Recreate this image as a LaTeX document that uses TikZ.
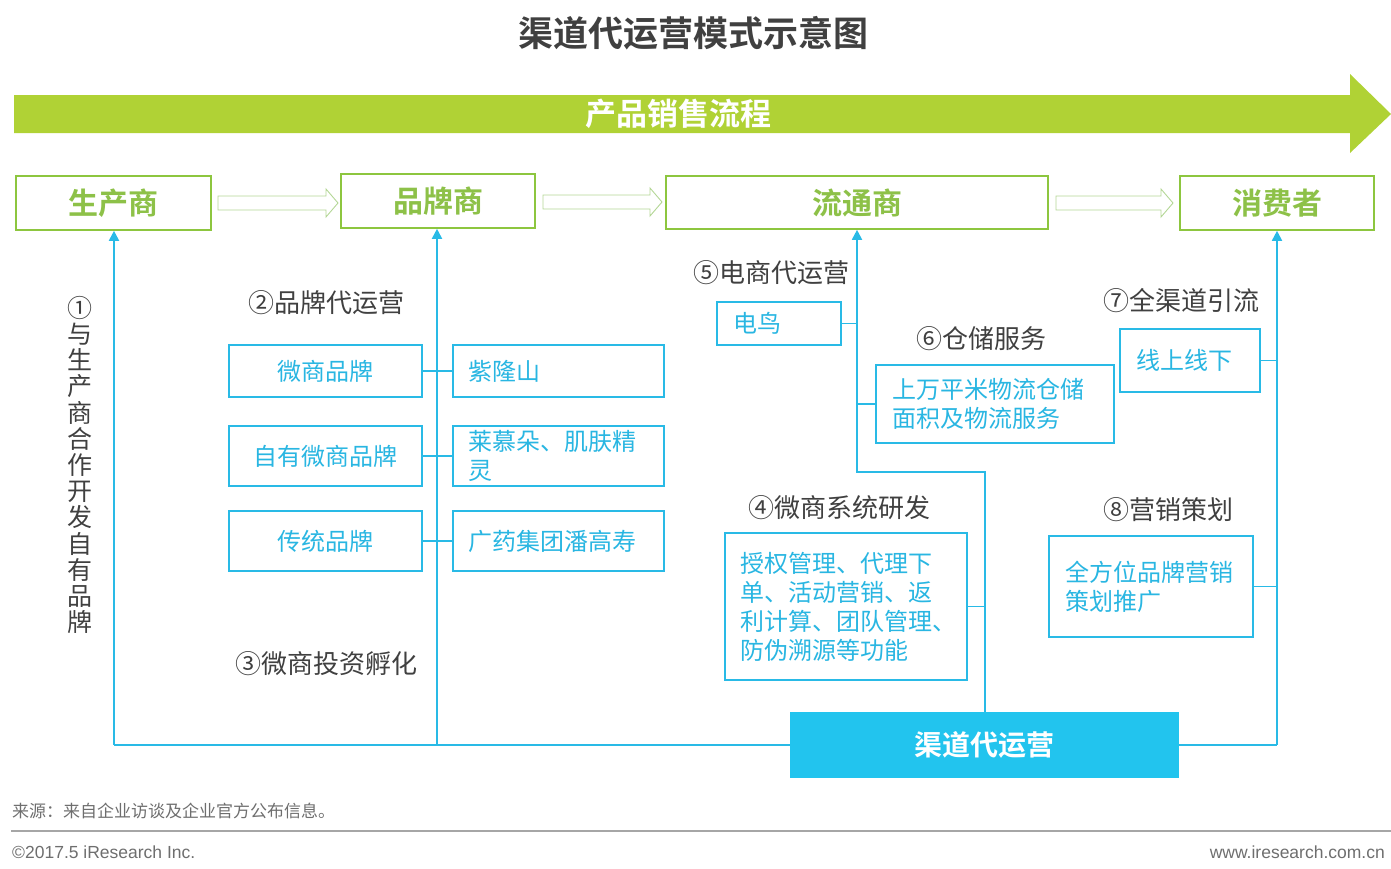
\documentclass[tikz,border=0pt]{standalone}
\usepackage{fontspec}
\setmainfont{Noto Sans CJK SC}[BoldFont={Noto Sans CJK SC Bold}]
\newfontfamily\latinfont{Liberation Sans}
\usetikzlibrary{arrows.meta}
\definecolor{gband}{RGB}{176,210,53}
\definecolor{gtext}{RGB}{141,193,72}
\definecolor{gborder}{RGB}{141,198,63}
\definecolor{harrowc}{RGB}{180,215,150}
\definecolor{bline}{RGB}{41,186,230}
\definecolor{bfill}{RGB}{34,196,238}
\definecolor{btext}{RGB}{41,182,226}
\definecolor{dgray}{RGB}{64,64,64}
\definecolor{mgray}{RGB}{110,110,110}
\newcommand\hollowarr[3]{\draw[harrow] (#1,#3-7) -- (#2-12,#3-7) -- (#2-12,#3-14) -- (#2,#3) -- (#2-12,#3+14) -- (#2-12,#3+7) -- (#1,#3+7) -- cycle;}
\begin{document}
\begin{tikzpicture}[x=1pt,y=-1pt,
  topbox/.style={draw=gborder, line width=1.6pt, fill=white, text=gtext, inner sep=0pt,
    font=\fontsize{30}{30}\selectfont\bfseries},
  harrow/.style={draw=harrowc, line width=0.9pt, fill=white},
  bl/.style={draw=bline, line width=1.8pt},
  blarr/.style={bl, -{Triangle[width=10pt,length=10pt]}},
  sbox/.style={draw=bline, line width=1.6pt, fill=white, text=btext, inner sep=0pt,
    font=\fontsize{24}{29}\selectfont},
  lbox/.style={sbox, align=left, inner xsep=15pt},
  lab/.style={text=dgray, inner sep=0pt, font=\fontsize{26}{26}\selectfont},
]
\useasboundingbox (0,0) rectangle (1391,868);

% title
\node[text=dgray, font=\fontsize{35}{35}\selectfont\bfseries] (title) at (693,33) {渠道代运营模式示意图};

% green band arrow
\fill[gband] (14,95) -- (1350,95) -- (1350,74) -- (1391,114) -- (1350,153) -- (1350,133) -- (14,133) -- cycle;
\node[text=white, font=\fontsize{31}{31}\selectfont\bfseries] (band) at (678,114) {产品销售流程};

% top boxes
\node[topbox, minimum width=195pt, minimum height=54pt] (prod) at (113.5,203) {生产商};
\node[topbox, minimum width=194pt, minimum height=54pt] (brand) at (438,201) {品牌商};
\node[topbox, minimum width=382pt, minimum height=53pt] (dist) at (857,202.5) {流通商};
\node[topbox, minimum width=194pt, minimum height=54pt] (cons) at (1277,203) {消费者};

\hollowarr{218}{338}{203}
\hollowarr{543}{662}{202}
\hollowarr{1056}{1173}{203}

% bottom box
\node[fill=bfill, text=white, minimum width=389pt, minimum height=66pt, inner sep=0pt,
  font=\fontsize{28}{28}\selectfont\bfseries] (qd) at (984.5,745) {渠道代运营};

\coordinate (b1) at (114,745);
\coordinate (b2) at (437,745);
\coordinate (b4) at (1277,745);
\coordinate (j1) at (985,472);
\coordinate (j2) at (857,472);

\draw[bl] (b1) -- (qd.west);
\draw[bl] (qd.east) -- (b4);
\draw[blarr] (b1) -- (b1 |- prod.south);
\draw[blarr] (b2) -- (b2 |- brand.south);
\draw[blarr] (b4) -- (b4 |- cons.south);
\draw[blarr] (qd.north -| j1) -- (j1) -- (j2) -- (j2 |- dist.south);

% left group
\node[text=dgray, align=center, inner sep=0pt, font=\fontsize{25}{26.2}\selectfont] (v1) at (80,465)
  {①\\与\\生\\产\\商\\合\\作\\开\\发\\自\\有\\品\\牌};
\node[lab] (l2) at (326,303) {②品牌代运营};
\node[lab] (l3) at (326,664) {③微商投资孵化};

\node[sbox, minimum width=193pt, minimum height=52pt] (wsb) at (325.5,371) {微商品牌};
\node[lbox, text width=181pt, minimum height=52pt] (zls) at (558.5,371) {紫隆山};
\node[sbox, minimum width=193pt, minimum height=60pt] (zy) at (325.5,456) {自有微商品牌};
\node[lbox, text width=181pt, minimum height=60pt] (lmd) at (558.5,456) {莱慕朵、肌肤精\\灵};
\node[sbox, minimum width=193pt, minimum height=60pt] (ct) at (325.5,541) {传统品牌};
\node[lbox, text width=181pt, minimum height=60pt] (gy) at (558.5,541) {广药集团潘高寿};
\draw[bl] (wsb.east) -- (zls.west);
\draw[bl] (zy.east) -- (lmd.west);
\draw[bl] (ct.east) -- (gy.west);

% right group
\node[lab] (l5) at (771,273) {⑤电商代运营};
\node[lbox, inner xsep=16pt, text width=92pt, minimum height=43pt] (dn) at (779,323.5) {电鸟};
\draw[bl] (dn.east) -- (dn.east -| j2);

\node[lab] (l6) at (981,339) {⑥仓储服务};
\node[lbox, inner xsep=16pt, text width=206pt, minimum height=78pt] (cc) at (995,404) {上万平米物流仓储\\面积及物流服务};
\draw[bl] (cc.west) -- (cc.west -| j2);

\node[lab] (l7) at (1181,301) {⑦全渠道引流};
\node[lbox, inner xsep=16pt, text width=108pt, minimum height=63pt] (xs) at (1190,360.5) {线上线下};
\draw[bl] (xs.east) -- (xs.east -| b4);

\node[lab] (l4) at (839,508) {④微商系统研发};
\node[lbox, inner xsep=15pt, text width=212pt, minimum height=147pt] (wx) at (846,606.5)
  {授权管理、代理下\\单、活动营销、返\\利计算、团队管理、\\防伪溯源等功能};
\draw[bl] (wx.east) -- (wx.east -| j1);

\node[lab] (l8) at (1168,510) {⑧营销策划};
\node[lbox, inner xsep=16pt, text width=172pt, minimum height=101pt] (yx) at (1151,586.5)
  {全方位品牌营销\\策划推广};
\draw[bl] (yx.east) -- (yx.east -| b4);

% footer
\node[anchor=west, text=mgray, inner sep=0pt, font=\fontsize{17}{17}\selectfont] (src) at (12,811) {来源：来自企业访谈及企业官方公布信息。};
\coordinate (fl) at (11,831);
\coordinate (fr) at (1391,831);
\draw[draw=black!35, line width=2pt] (fl) -- (fr);
\node[anchor=west, text=mgray, inner sep=0pt, font=\latinfont\fontsize{17.5}{17.5}\selectfont] (copy) at (12,852) {©2017.5 iResearch Inc.};
\node[anchor=east, text=mgray, inner sep=0pt, font=\latinfont\fontsize{17.5}{17.5}\selectfont] (web) at (1385,852) {www.iresearch.com.cn};
\end{tikzpicture}
\end{document}
